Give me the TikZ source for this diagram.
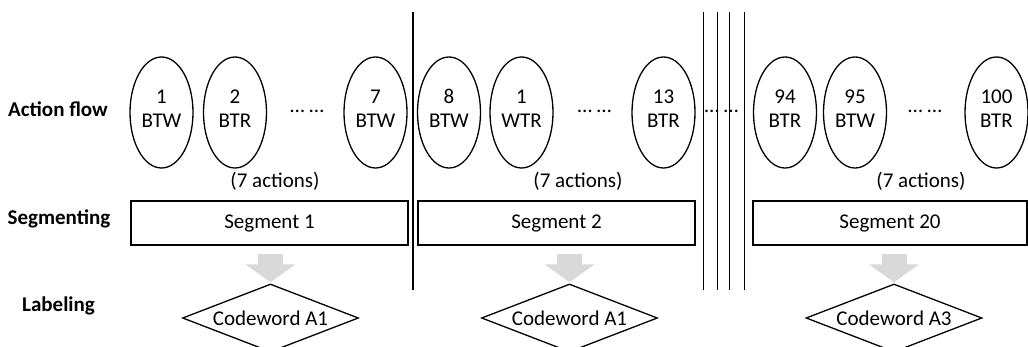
\documentclass[tikz,border=0pt]{standalone}
\usepackage{fontspec}
\setmainfont{Carlito}
\usetikzlibrary{shapes.geometric,arrows.meta}

\begin{document}
\begin{tikzpicture}[x=1pt, y=-1pt, font=\fontsize{21}{24}\selectfont,
  action/.style={ellipse, draw, line width=1.3pt, minimum width=63pt, minimum height=111pt, inner sep=0pt, align=center, text depth=8pt},
  segment/.style={rectangle, draw, line width=1.3pt, minimum height=44pt, inner sep=0pt},
  codeword/.style={diamond, draw, line width=1.3pt, aspect=2.8, minimum width=176pt, minimum height=68pt, inner sep=0pt},
  rowlabel/.style={font=\fontsize{21}{24}\selectfont\bfseries, anchor=base},
  flow/.style={line width=25pt, draw=black!15, -{Triangle[width=49pt, length=18pt]}, shorten <=8pt, shorten >=1pt}]
  \useasboundingbox (0,0) rectangle (1028,347);
  \clip (0,0) rectangle (1028,347);

  \node[rowlabel] (flowlabel) at (58,117) {Action flow};
  \node[rowlabel] (seglabel) at (59,225) {Segmenting};
  \node[rowlabel] (codelabel) at (58.5,312) {Labeling};

  \node[action] (a1) at (161.5,112.5) {1\\BTW};
  \node[action] (a2) at (235,112.5) {2\\BTR};
  \node[anchor=base] (dots1) at (307,113) {… …};
  \node[action] (a7) at (375.5,112.5) {7\\BTW};
  \node[action] (a8) at (449,112.5) {8\\BTW};
  \node[action] (b1) at (521.5,112.5) {1\\WTR};
  \node[anchor=base] (dots2) at (594.5,113) {… …};
  \node[action] (a13) at (663.5,112.5) {13\\BTR};
  \node[anchor=base] (dots3) at (721.5,113) {… …};
  \node[action] (a94) at (785,112.5) {94\\BTR};
  \node[action] (a95) at (855,112.5) {95\\BTW};
  \node[anchor=base] (dots4) at (925,113) {… …};
  \node[action] (a100) at (996.5,112.5) {100\\BTR};

  \node[anchor=base] (n1) at (275,188) {(7 actions)};
  \node[anchor=base] (n2) at (578,188) {(7 actions)};
  \node[anchor=base] (n20) at (921,188) {(7 actions)};

  \node[segment, minimum width=277pt] (s1) at (269.5,223) {Segment 1};
  \node[segment, minimum width=277pt] (s2) at (556.5,223) {Segment 2};
  \node[segment, minimum width=274pt] (s20) at (890,223) {Segment 20};

  \node[codeword] (c1) at (270.5,318) {Codeword A1};
  \node[codeword] (c2) at (569.5,318) {Codeword A1};
  \node[codeword] (c20) at (894,318) {Codeword A3};

  \draw[flow] (c1.north |- s1.south) -- (c1.north);
  \draw[flow] (c2.north |- s2.south) -- (c2.north);
  \draw[flow] (c20.north |- s20.south) -- (c20.north);

  \draw[line width=1.5pt] (413,12) -- (413,290);
  \foreach \x in {703,717,729,744}
    \draw[line width=0.8pt] (\x,12) -- (\x,290);
\end{tikzpicture}
\end{document}
